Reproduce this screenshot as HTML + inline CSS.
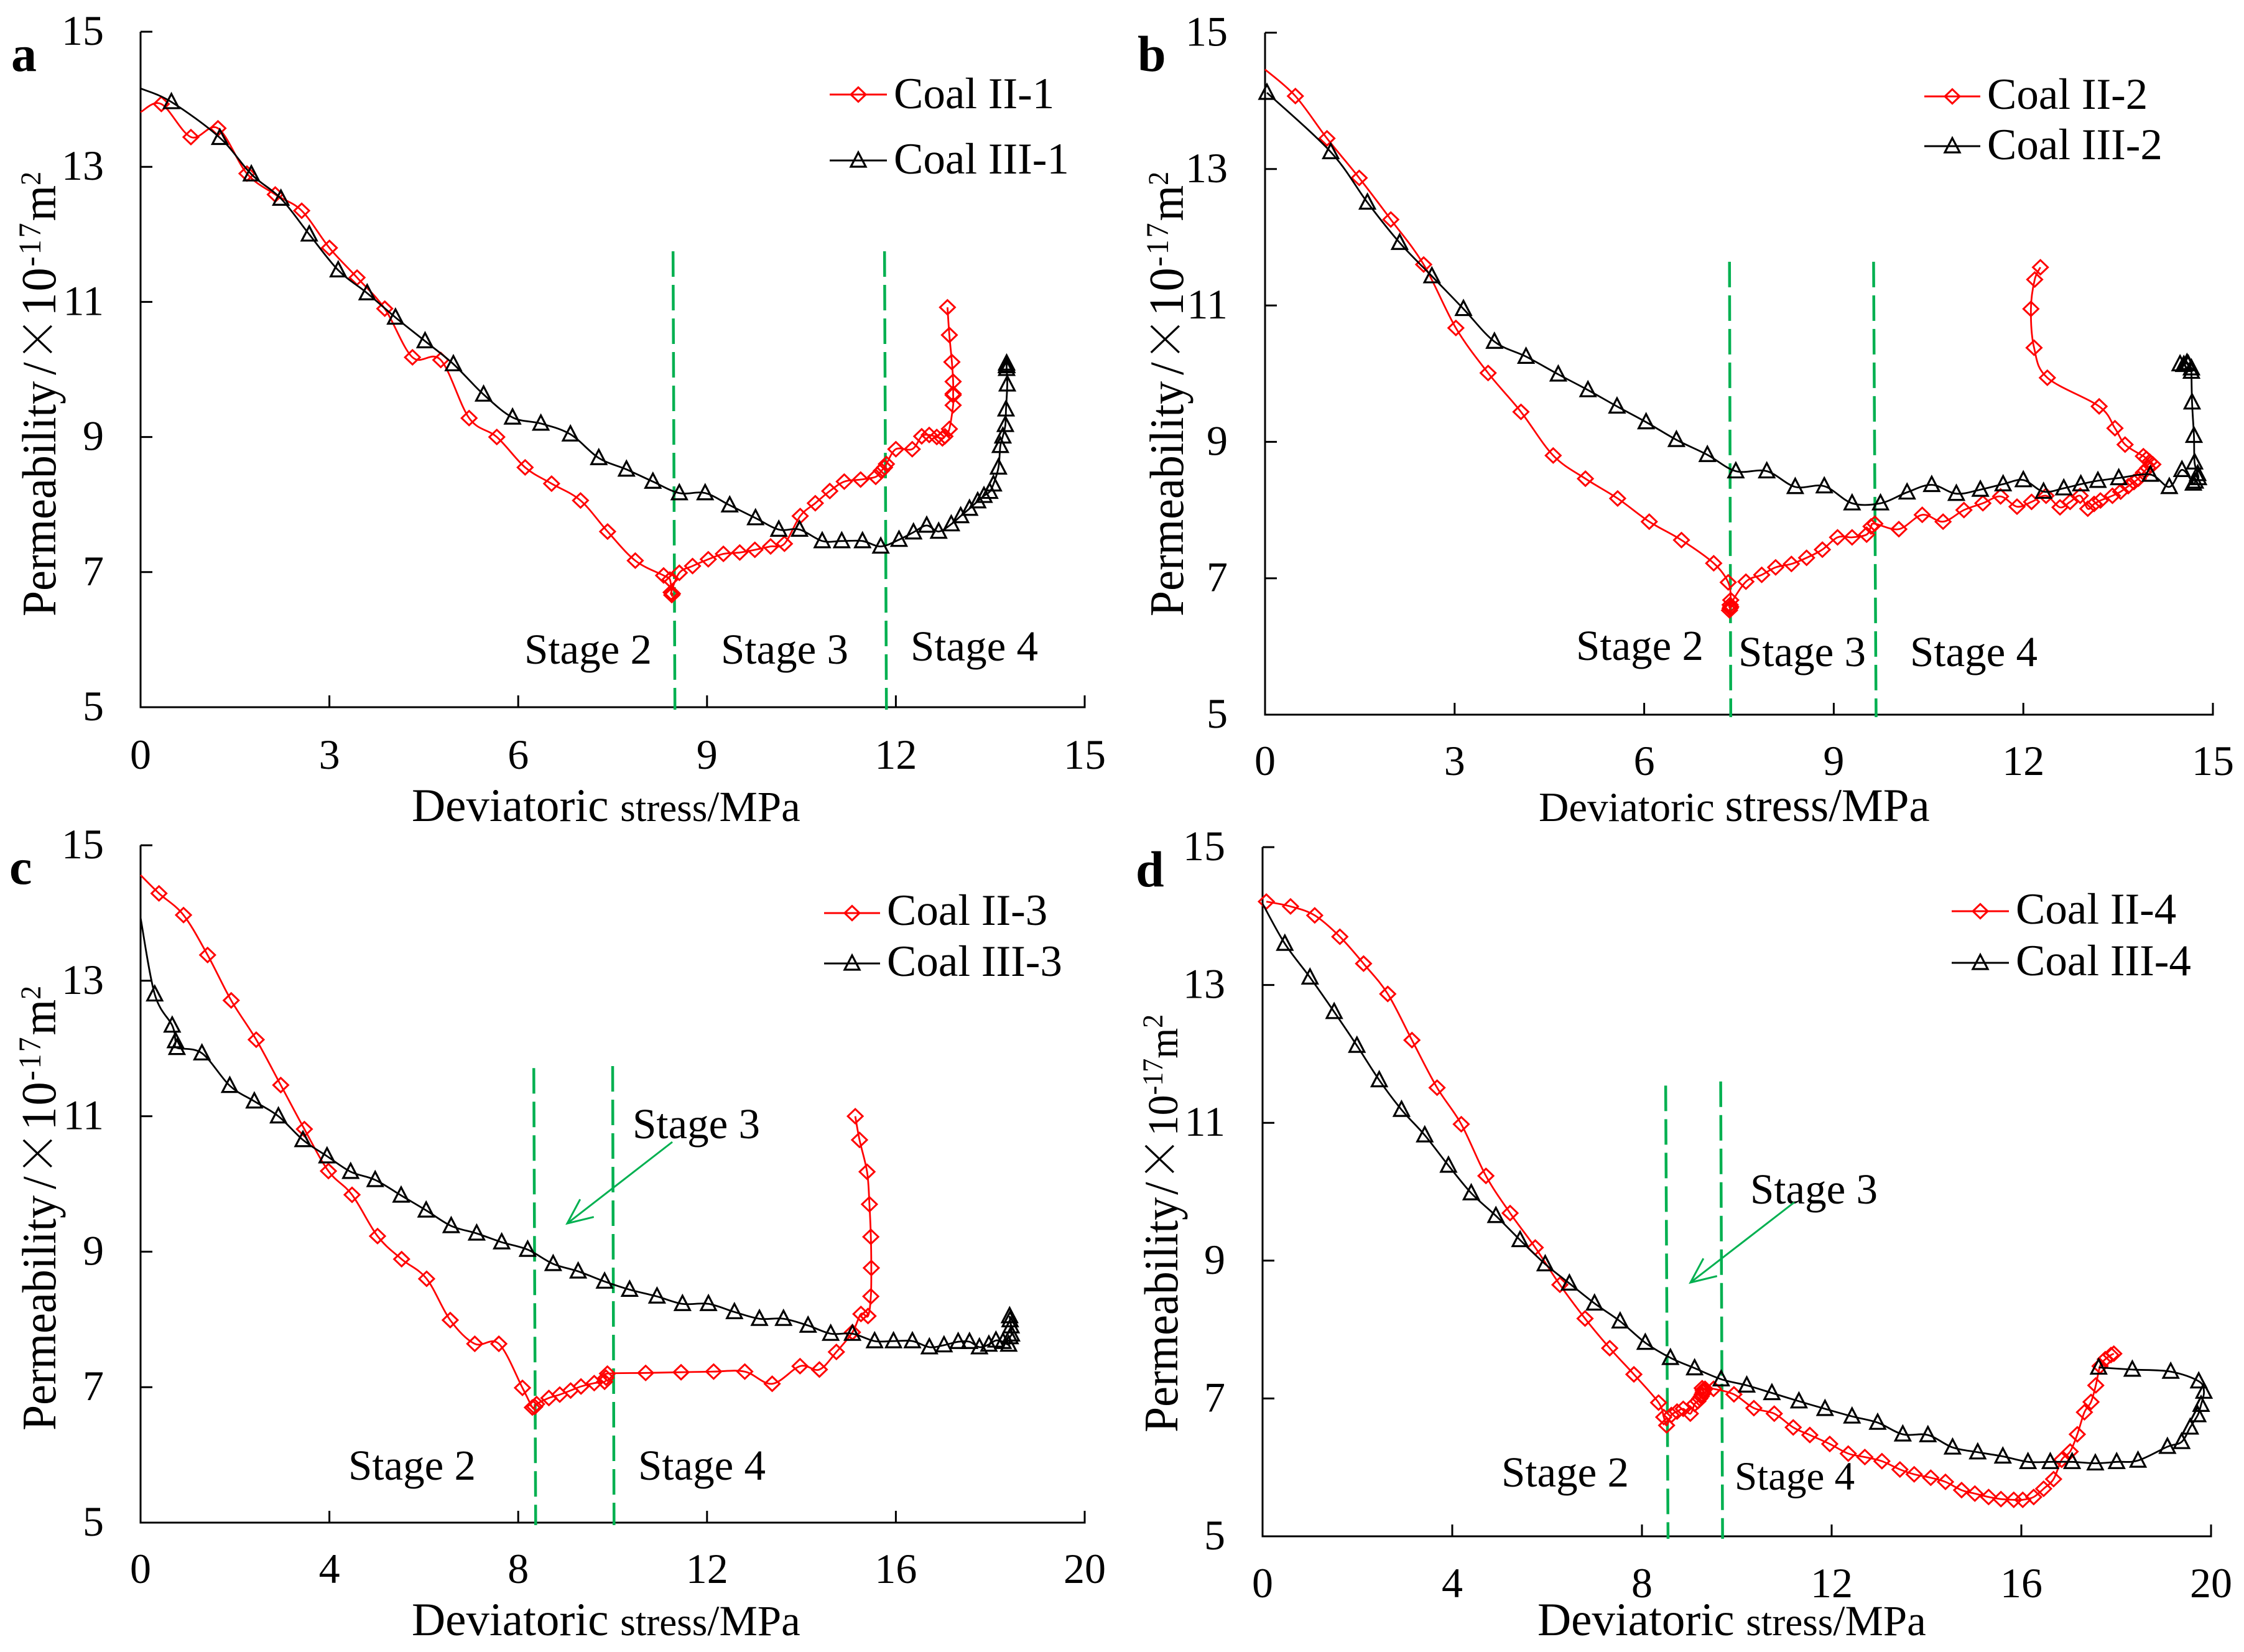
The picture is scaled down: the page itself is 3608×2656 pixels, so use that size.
<!DOCTYPE html>
<html lang="en">
<head>
<meta charset="utf-8">
<title>Permeability vs deviatoric stress</title>
<style>
html,body{margin:0;padding:0;background:#fff;}
svg{display:block;}
text{font-family:"Liberation Serif","Noto Serif CJK SC",serif;fill:#000;}
</style>
</head>
<body>
<svg id="figure" xmlns="http://www.w3.org/2000/svg" width="3608" height="2656" viewBox="0 0 3608 2656"></svg>
<script>
// ---- Shared tick labels ----
const yTickLabels = [5, 7, 9, 11, 13, 15];
const xTickLabelsAB = [0, 3, 6, 9, 12, 15];
const xTickLabelsCD = [0, 4, 8, 12, 16, 20];

// ---- Panel a ----
const stressCoalII1 = [0,0.33,0.8,1.23,1.69,2.14,2.56,3.0,3.44,3.88,4.32,4.77,5.22,5.66,6.11,6.53,6.99,7.42,7.86,8.31,8.41,8.44,8.45,8.43,8.56,8.77,9.02,9.26,9.52,9.76,10.01,10.23,10.48,10.72,10.95,11.18,11.44,11.68,11.77,11.82,11.85,12.0,12.26,12.41,12.53,12.65,12.74,12.78,12.85,12.91,12.91,12.91,12.91,12.89,12.85,12.82];
const permCoalII1 = [13.81,13.93,13.44,13.57,12.9,12.59,12.35,11.8,11.36,10.9,10.18,10.14,9.28,9.0,8.55,8.31,8.06,7.6,7.17,6.95,6.89,6.66,6.68,6.7,6.99,7.09,7.19,7.27,7.29,7.33,7.38,7.42,7.83,8.02,8.2,8.34,8.37,8.41,8.5,8.55,8.6,8.82,8.82,9.01,9.03,9.0,8.98,9.01,9.12,9.47,9.62,9.64,9.82,10.11,10.51,10.92];
const stressCoalIII1 = [0,0.49,1.26,1.76,2.23,2.68,3.14,3.6,4.05,4.52,4.97,5.45,5.91,6.36,6.83,7.28,7.72,8.14,8.56,8.97,9.36,9.77,10.14,10.47,10.83,11.14,11.47,11.76,12.05,12.28,12.49,12.68,12.88,13.03,13.17,13.3,13.4,13.49,13.55,13.63,13.66,13.7,13.74,13.75,13.77,13.76,13.76,13.76,13.76];
const permCoalIII1 = [14.16,13.96,13.43,12.89,12.53,12.0,11.47,11.13,10.77,10.42,10.08,9.63,9.29,9.2,9.04,8.69,8.52,8.34,8.17,8.17,7.99,7.8,7.63,7.63,7.46,7.46,7.46,7.38,7.48,7.59,7.69,7.6,7.71,7.83,7.94,8.05,8.13,8.19,8.3,8.55,8.87,9.01,9.18,9.41,9.78,10.01,10.06,10.09,10.05];

// ---- Panel b ----
const stressCoalII2 = [0,0.48,0.98,1.49,1.99,2.51,3.02,3.53,4.05,4.56,5.07,5.58,6.08,6.59,7.1,7.33,7.37,7.36,7.35,7.37,7.36,7.61,7.86,8.08,8.33,8.57,8.82,9.06,9.29,9.52,9.59,9.65,10.03,10.4,10.73,11.06,11.36,11.64,11.9,12.13,12.36,12.58,12.74,12.9,13.02,13.12,13.22,13.41,13.54,13.66,13.75,13.82,13.9,13.97,14.05,14.0,13.95,13.9,13.61,13.45,13.2,12.38,12.17,12.12,12.18,12.27];
const permCoalII2 = [14.46,14.07,13.45,12.87,12.26,11.6,10.67,10.01,9.44,8.8,8.46,8.17,7.83,7.56,7.22,6.94,6.68,6.56,6.53,6.58,6.61,6.95,7.05,7.16,7.21,7.3,7.42,7.6,7.6,7.64,7.76,7.8,7.72,7.93,7.83,8.0,8.1,8.2,8.05,8.12,8.21,8.04,8.12,8.21,8.02,8.09,8.14,8.21,8.27,8.35,8.41,8.46,8.55,8.62,8.67,8.71,8.75,8.79,8.96,9.2,9.52,9.94,10.38,10.95,11.38,11.56];
const stressCoalIII2 = [0.03,1.04,1.62,2.13,2.64,3.14,3.63,4.13,4.64,5.11,5.57,6.03,6.51,7.0,7.45,7.94,8.39,8.85,9.29,9.74,10.16,10.55,10.94,11.32,11.68,12.0,12.32,12.64,12.91,13.18,13.51,14.01,14.31,14.51,14.69,14.72,14.77,14.76,14.71,14.7,14.67,14.66,14.66,14.61,14.59,14.54,14.48];
const permCoalIII2 = [14.12,13.25,12.51,11.92,11.43,10.95,10.47,10.25,9.99,9.76,9.52,9.29,9.03,8.81,8.57,8.57,8.34,8.35,8.1,8.1,8.26,8.37,8.24,8.3,8.38,8.44,8.27,8.32,8.38,8.43,8.47,8.52,8.34,8.59,8.39,8.42,8.47,8.53,8.7,9.09,9.58,10.03,10.08,10.14,10.16,10.13,10.14];

// ---- Panel c ----
const stressCoalII3 = [0,0.39,0.91,1.42,1.92,2.45,2.97,3.47,3.98,4.48,5.02,5.53,6.06,6.56,7.08,7.59,8.09,8.3,8.35,8.39,8.65,8.88,9.11,9.33,9.61,9.83,9.86,9.89,10.7,11.45,12.14,12.8,13.38,13.97,14.38,14.74,15.08,15.26,15.41,15.47,15.48,15.47,15.44,15.39,15.23,15.14];
const permCoalII3 = [14.56,14.29,13.97,13.38,12.71,12.13,11.46,10.81,10.19,9.84,9.23,8.89,8.6,7.99,7.64,7.64,6.99,6.7,6.71,6.75,6.84,6.89,6.95,7.01,7.06,7.08,7.14,7.2,7.21,7.22,7.23,7.23,7.05,7.31,7.26,7.52,7.81,8.08,8.05,8.34,8.76,9.22,9.7,10.18,10.65,11.0];
const stressCoalIII3 = [0,0.3,0.67,0.74,0.77,1.3,1.89,2.41,2.92,3.44,3.95,4.45,4.97,5.52,6.05,6.58,7.12,7.65,8.2,8.74,9.27,9.83,10.36,10.94,11.48,12.03,12.58,13.11,13.62,14.14,14.62,15.08,15.55,15.95,16.35,16.71,17.02,17.32,17.56,17.77,17.97,18.12,18.27,18.39,18.42,18.45,18.44,18.42,18.41];
const permCoalIII3 = [13.93,12.8,12.34,12.11,12.01,11.93,11.45,11.22,11.0,10.65,10.41,10.18,10.06,9.83,9.61,9.38,9.27,9.14,9.03,8.82,8.71,8.56,8.44,8.34,8.23,8.23,8.11,8.01,8.01,7.91,7.79,7.79,7.68,7.68,7.68,7.59,7.62,7.67,7.67,7.59,7.63,7.69,7.67,7.63,7.74,7.78,7.9,7.99,8.05];

// ---- Panel d ----
const stressCoalII4 = [0.08,0.59,1.1,1.63,2.13,2.64,3.15,3.68,4.19,4.71,5.22,5.75,6.27,6.8,7.32,7.83,8.35,8.46,8.52,8.62,8.74,8.87,9.02,9.11,9.18,9.22,9.25,9.27,9.29,9.29,9.27,9.33,9.51,9.94,10.36,10.79,11.19,11.54,11.96,12.35,12.7,13.06,13.44,13.74,14.09,14.4,14.74,15.02,15.31,15.57,15.84,16.03,16.26,16.47,16.68,16.85,17.03,17.18,17.33,17.47,17.57,17.66,17.77,17.89,17.95];
const permCoalII4 = [14.21,14.14,14.01,13.7,13.31,12.87,12.2,11.51,10.98,10.23,9.69,9.19,8.65,8.16,7.73,7.35,6.94,6.73,6.61,6.76,6.81,6.85,6.78,6.92,6.96,7.0,7.03,7.06,7.09,7.12,7.15,7.14,7.14,7.06,6.86,6.78,6.58,6.47,6.34,6.2,6.15,6.09,5.97,5.9,5.85,5.79,5.67,5.62,5.57,5.54,5.53,5.53,5.57,5.69,5.83,6.11,6.23,6.48,6.8,6.95,7.19,7.47,7.57,7.63,7.65];
const stressCoalIII4 = [0,0.47,1.0,1.51,1.99,2.46,2.93,3.42,3.92,4.4,4.92,5.43,5.96,6.47,7.0,7.54,8.07,8.6,9.11,9.67,10.21,10.74,11.31,11.86,12.43,12.97,13.5,14.03,14.55,15.08,15.61,16.14,16.61,17.07,17.56,18.01,18.46,19.08,19.38,19.56,19.72,19.79,19.85,19.74,19.15,18.34,17.63];
const permCoalIII4 = [14.18,13.6,13.11,12.61,12.12,11.62,11.19,10.82,10.38,9.98,9.65,9.3,8.95,8.67,8.38,8.12,7.81,7.59,7.44,7.28,7.19,7.08,6.96,6.85,6.74,6.65,6.48,6.47,6.29,6.22,6.16,6.08,6.08,6.08,6.06,6.08,6.1,6.3,6.37,6.58,6.76,6.91,7.1,7.25,7.39,7.42,7.45];

// ---- Stage boundaries: stress at top and bottom of each dashed line, and permeability extent ----
const boundaryStressTopA = [8.46, 11.82];
const boundaryStressBottomA = [8.49, 11.85];
const boundaryPermTopA = [11.75, 11.75];
const boundaryStressTopB = [7.35, 9.63];
const boundaryStressBottomB = [7.37, 9.67];
const boundaryPermTopB = [11.64, 11.64];
const boundaryStressTopC = [8.33, 10.0];
const boundaryStressBottomC = [8.37, 10.03];
const boundaryPermTopC = [11.71, 11.74];
const boundaryStressTopD = [8.5, 9.66];
const boundaryStressBottomD = [8.55, 9.7];
const boundaryPermTopD = [11.54, 11.6];

const NS = 'http://www.w3.org/2000/svg';
const root = document.getElementById('figure');

function mk(parent, tag) {
  const el = document.createElementNS(NS, tag);
  parent.appendChild(el);
  return el;
}
function label(parent, x, y, html, size, anchor, weight) {
  const el = mk(parent, 'text');
  el.setAttribute('x', x);
  el.setAttribute('y', y);
  el.setAttribute('font-size', size);
  if (anchor) el.setAttribute('text-anchor', anchor);
  if (weight) el.setAttribute('font-weight', weight);
  el.innerHTML = html;
  return el;
}
function smoothPath(pts) {
  let d = 'M' + pts[0][0].toFixed(1) + ' ' + pts[0][1].toFixed(1);
  for (let i = 0; i < pts.length - 1; i++) {
    const p0 = pts[Math.max(0, i - 1)], p1 = pts[i], p2 = pts[i + 1], p3 = pts[Math.min(pts.length - 1, i + 2)];
    const c1x = p1[0] + (p2[0] - p0[0]) / 6, c1y = p1[1] + (p2[1] - p0[1]) / 6;
    const c2x = p2[0] - (p3[0] - p1[0]) / 6, c2y = p2[1] - (p3[1] - p1[1]) / 6;
    d += 'C' + c1x.toFixed(1) + ' ' + c1y.toFixed(1) + ' ' + c2x.toFixed(1) + ' ' + c2y.toFixed(1) + ' ' + p2[0].toFixed(1) + ' ' + p2[1].toFixed(1);
  }
  return d;
}
function diamondAt(parent, cx, cy) {
  const el = mk(parent, 'path');
  el.setAttribute('d', 'M' + cx + ' ' + (cy - 11.5) + 'L' + (cx + 12) + ' ' + cy + 'L' + cx + ' ' + (cy + 11.5) + 'L' + (cx - 12) + ' ' + cy + 'Z');
  el.setAttribute('fill', 'none');
  el.setAttribute('stroke', '#ff0000');
  el.setAttribute('stroke-width', '3');
  return el;
}
function triangleAt(parent, cx, cy) {
  const el = mk(parent, 'path');
  el.setAttribute('d', 'M' + cx + ' ' + (cy - 13) + 'L' + (cx + 12) + ' ' + (cy + 10) + 'L' + (cx - 12) + ' ' + (cy + 10) + 'Z');
  el.setAttribute('fill', 'none');
  el.setAttribute('stroke', '#000000');
  el.setAttribute('stroke-width', '3.2');
  return el;
}
function yTitleHtml(t) {
  return 'Permeability<tspan dx="' + t.slashDx + '">/</tspan><tspan font-family="Noto Serif CJK SC">×</tspan>' +
    '<tspan font-size="' + t.ten + '" letter-spacing="' + t.tenLs + '">10</tspan>' +
    '<tspan font-size="' + t.sup + '" letter-spacing="' + t.supLs + '" dy="-23">-17</tspan>' +
    '<tspan font-size="' + t.m + '" dy="23">m</tspan>' +
    '<tspan font-size="' + t.two + '" dy="-23">2</tspan>';
}

const wideTitle = {slashDx:10, ten:76, tenLs:2, sup:48, supLs:3, m:74, two:44};
const narrowTitle = {slashDx:4, ten:66, tenLs:0, sup:44, supLs:0, m:63, two:44};

const panels = [
  {id:'a', x0:226, x1:1744, yb:1137, yt:51, xMax:15, xTicks:xTickLabelsAB,
   xNums:1236, yNumR:167, letter:[18,114],
   yPos:[89,991], yFmt:wideTitle, xPos:[662,1320], xSizes:[75,63,69],
   red:[stressCoalII1,permCoalII1], black:[stressCoalIII1,permCoalIII1],
   bTop:boundaryStressTopA, bBot:boundaryStressBottomA, bPerm:boundaryPermTopA,
   names:['Coal II-1','Coal III-1'], leg:{x0:1334,x1:1426,y:[152,258],tx:1437,ty:[174,279]},
   stages:[['Stage 2',843,1067,69],['Stage 3',1159,1067,69],['Stage 4',1464,1062,69]]},
  {id:'b', x0:2034, x1:3558, yb:1149, yt:52.5, xMax:15, xTicks:xTickLabelsAB,
   xNums:1246, yNumR:1974, letter:[1829,114],
   yPos:[1902,991], yFmt:wideTitle, xPos:[2474,1320], xSizes:[67,75,75],
   red:[stressCoalII2,permCoalII2], black:[stressCoalIII2,permCoalIII2],
   bTop:boundaryStressTopB, bBot:boundaryStressBottomB, bPerm:boundaryPermTopB,
   names:['Coal II-2','Coal III-2'], leg:{x0:3094,x1:3184,y:[155,235],tx:3195,ty:[175,256]},
   stages:[['Stage 2',2534,1061,69],['Stage 3',2795,1071,69],['Stage 4',3071,1071,69]]},
  {id:'c', x0:226, x1:1744, yb:2448, yt:1359, xMax:20, xTicks:xTickLabelsCD,
   xNums:2545, yNumR:167, letter:[15,1421],
   yPos:[89,2300], yFmt:wideTitle, xPos:[662,2629], xSizes:[75,63,69],
   red:[stressCoalII3,permCoalII3], black:[stressCoalIII3,permCoalIII3],
   bTop:boundaryStressTopC, bBot:boundaryStressBottomC, bPerm:boundaryPermTopC,
   names:['Coal II-3','Coal III-3'], leg:{x0:1325,x1:1415,y:[1468,1549],tx:1426,ty:[1487,1569]},
   stages:[['Stage 2',560,2379,69],['Stage 4',1026,2379,69],['Stage 3',1017,1830,69]],
   arrow:[1081,1836,912,1967]},
  {id:'d', x0:2030, x1:3555, yb:2470, yt:1362, xMax:20, xTicks:xTickLabelsCD,
   xNums:2568, yNumR:1970, letter:[1826,1425],
   yPos:[1893,2303], yFmt:narrowTitle, xPos:[2472,2629], xSizes:[75,63,69],
   red:[stressCoalII4,permCoalII4], black:[stressCoalIII4,permCoalIII4],
   bTop:boundaryStressTopD, bBot:boundaryStressBottomD, bPerm:boundaryPermTopD,
   names:['Coal II-4','Coal III-4'], leg:{x0:3138,x1:3230,y:[1465,1548],tx:3241,ty:[1485,1568]},
   stages:[['Stage 2',2414,2390,69],['Stage 4',2789,2395,65],['Stage 3',2814,1935,69]],
   arrow:[2885,1933,2718,2062]}
];

panels.forEach(function (p) {
  const sx = function (v) { return p.x0 + (p.x1 - p.x0) * v / p.xMax; };
  const sy = function (v) { return p.yb - (p.yb - p.yt) * (v - 5) / 10; };

  const g = mk(root, 'g');
  
  

  // panel letter
  const letterEl = label(g, p.letter[0], p.letter[1], p.id, 82, null, 'bold');
  
  

  // axes
  const axes = mk(g, 'g');
  
  
  axes.setAttribute('stroke', '#000');
  axes.setAttribute('stroke-width', '3');
  axes.setAttribute('fill', 'none');
  const xAxis = mk(axes, 'line');
  
  
  xAxis.setAttribute('x1', p.x0 - 1.5);
  xAxis.setAttribute('x2', p.x1 + 1.5);
  xAxis.setAttribute('y1', p.yb);
  xAxis.setAttribute('y2', p.yb);
  const yAxis = mk(axes, 'line');
  
  
  yAxis.setAttribute('x1', p.x0);
  yAxis.setAttribute('x2', p.x0);
  yAxis.setAttribute('y1', p.yt);
  yAxis.setAttribute('y2', p.yb);

  p.xTicks.forEach(function (t) {
    const tick = mk(axes, 'line');
    
    
    tick.setAttribute('x1', sx(t));
    tick.setAttribute('x2', sx(t));
    tick.setAttribute('y1', p.yb);
    tick.setAttribute('y2', p.yb - 19);
    const tl = label(g, sx(t), p.xNums, String(t), 68, 'middle');
    
    
  });
  yTickLabels.forEach(function (t) {
    const tick = mk(axes, 'line');
    
    
    tick.setAttribute('x1', p.x0);
    tick.setAttribute('x2', p.x0 + 19);
    tick.setAttribute('y1', sy(t));
    tick.setAttribute('y2', sy(t));
    const tl = label(g, p.yNumR, sy(t) + 21, String(t), 68, 'end');
    
    
  });

  // y-axis title
  const yTitleEl = label(g, 0, 0, yTitleHtml(p.yFmt), 74);
  yTitleEl.setAttribute('transform', 'translate(' + p.yPos[0] + ' ' + p.yPos[1] + ') rotate(-90) scale(1 1.05)');
  
  

  // x-axis title
  const xs = p.xSizes;
  const xTitleEl = label(g, p.xPos[0], p.xPos[1],
    'Deviatoric <tspan font-size="' + xs[1] + '">stress</tspan><tspan font-size="' + xs[2] + '">/MPa</tspan>', xs[0]);
  
  

  // stage boundaries
  p.bTop.forEach(function (v, i) {
    const ln = mk(g, 'line');
    
    
    ln.setAttribute('x1', sx(v));
    ln.setAttribute('y1', sy(p.bPerm[i]));
    ln.setAttribute('x2', sx(p.bBot[i]));
    ln.setAttribute('y2', p.yb + 4);
    ln.setAttribute('stroke', '#00b050');
    ln.setAttribute('stroke-width', '4.5');
    ln.setAttribute('stroke-dasharray', '41 13');
  });

  // stage labels
  p.stages.forEach(function (s) {
    const st = label(g, s[1], s[2], s[0], s[3]);
    
    
  });

  // stage 3 arrow
  if (p.arrow) {
    const a = p.arrow;
    const arrowEl = mk(g, 'g');
    
    
    arrowEl.setAttribute('stroke', '#00b050');
    arrowEl.setAttribute('stroke-width', '3');
    arrowEl.setAttribute('fill', 'none');
    const shaft = mk(arrowEl, 'line');
    shaft.setAttribute('x1', a[0]);
    shaft.setAttribute('y1', a[1]);
    shaft.setAttribute('x2', a[2]);
    shaft.setAttribute('y2', a[3]);
    const ang = Math.atan2(a[1] - a[3], a[0] - a[2]);
    const head = mk(arrowEl, 'path');
    const hl = 44, hw = 0.42;
    head.setAttribute('d', 'M' + (a[2] + hl * Math.cos(ang - hw)) + ' ' + (a[3] + hl * Math.sin(ang - hw)) + 'L' + a[2] + ' ' + a[3] + 'L' + (a[2] + hl * Math.cos(ang + hw)) + ' ' + (a[3] + hl * Math.sin(ang + hw)));
  }

  // series
  const drawSeries = function (xvals, yvals, color, kind, name) {
    const sg = mk(g, 'g');
    
    
    const pts = xvals.map(function (v, i) { return [sx(v), sy(yvals[i])]; });
    const line = mk(sg, 'path');
    
    
    line.setAttribute('d', smoothPath(pts));
    line.setAttribute('fill', 'none');
    line.setAttribute('stroke', color);
    line.setAttribute('stroke-width', '2.8');
    pts.forEach(function (pt, i) {
      if (i === 0 && xvals[0] === 0) return;
      const m = kind === 'diamond' ? diamondAt(sg, pt[0], pt[1]) : triangleAt(sg, pt[0], pt[1]);
      
      
    });
  };
  drawSeries(p.red[0], p.red[1], '#ff0000', 'diamond', 'series-' + p.names[0].toLowerCase().replace(/ /g, '-'));
  drawSeries(p.black[0], p.black[1], '#000000', 'triangle', 'series-' + p.names[1].toLowerCase().replace(/ /g, '-'));

  // legend
  const lg = mk(g, 'g');
  
  
  p.names.forEach(function (nm, i) {
    const entry = mk(lg, 'g');
    
    
    const color = i === 0 ? '#ff0000' : '#000000';
    const sw = mk(entry, 'line');
    
    
    sw.setAttribute('x1', p.leg.x0);
    sw.setAttribute('x2', p.leg.x1);
    sw.setAttribute('y1', p.leg.y[i]);
    sw.setAttribute('y2', p.leg.y[i]);
    sw.setAttribute('stroke', color);
    sw.setAttribute('stroke-width', '3');
    const mx = (p.leg.x0 + p.leg.x1) / 2;
    const mm = i === 0 ? diamondAt(entry, mx, p.leg.y[i]) : triangleAt(entry, mx, p.leg.y[i]);
    
    
    const tx = label(entry, p.leg.tx, p.leg.ty[i], nm, 71);
    
    
  });
});
</script>
</body>
</html>
